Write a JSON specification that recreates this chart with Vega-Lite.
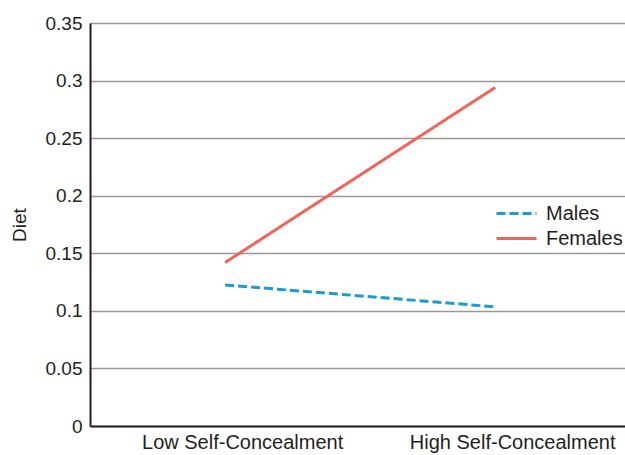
{
  "$schema": "https://vega.github.io/schema/vega-lite/v6.json",
  "autosize": {"type": "none"},
  "padding": {"left": 90, "top": 23, "right": 0, "bottom": 29},
  "width": 535,
  "height": 403,
  "background": "white",
  "config": {
    "view": {"stroke": null},
    "font": "Liberation Sans"
  },
  "data": {
    "values": [
      {"level": "Low Self-Concealment", "sex": "Males", "diet": 0.1225},
      {"level": "High Self-Concealment", "sex": "Males", "diet": 0.1035},
      {"level": "Low Self-Concealment", "sex": "Females", "diet": 0.142},
      {"level": "High Self-Concealment", "sex": "Females", "diet": 0.294}
    ]
  },
  "mark": {"type": "line", "strokeWidth": 3},
  "encoding": {
    "x": {
      "field": "level",
      "type": "ordinal",
      "sort": ["Low Self-Concealment", "High Self-Concealment"],
      "scale": {"type": "point", "padding": 0.4907, "align": 0.51},
      "axis": {
        "title": null,
        "labelAngle": 0,
        "labelFontSize": 20,
        "labelLimit": 0,
        "labelColor": "#231f20",
        "labelOffset": 17,
        "labelPadding": 6,
        "ticks": false,
        "grid": false,
        "domainColor": "#231f20",
        "domainWidth": 2
      }
    },
    "y": {
      "field": "diet",
      "type": "quantitative",
      "scale": {"domain": [0, 0.35], "nice": false},
      "axis": {
        "title": "Diet",
        "titleFontSize": 19,
        "titleFontWeight": "normal",
        "titleColor": "#231f20",
        "titlePadding": 16,
        "values": [0, 0.05, 0.1, 0.15, 0.2, 0.25, 0.3, 0.35],
        "labelExpr": "datum.value === 0 ? '0' : format(datum.value, '.2~f')",
        "labelFontSize": 19,
        "labelColor": "#231f20",
        "labelPadding": 8,
        "ticks": false,
        "gridColor": "#999999",
        "gridWidth": 1.5,
        "domainColor": "#231f20",
        "domainWidth": 2
      }
    },
    "color": {
      "field": "sex",
      "type": "nominal",
      "scale": {"domain": ["Males", "Females"], "range": ["#1a9bd1", "#f0655a"]},
      "legend": {
        "title": null,
        "orient": "none",
        "legendX": 405,
        "legendY": 179,
        "symbolType": "M-1,0H3",
        "symbolSize": 400,
        "symbolStrokeWidth": 3,
        "symbolFillColor": "transparent",
        "labelFontSize": 20,
        "labelColor": "#231f20",
        "labelOffset": 28,
        "rowPadding": 3
      }
    },
    "strokeDash": {
      "field": "sex",
      "type": "nominal",
      "scale": {"domain": ["Males", "Females"], "range": [[9, 4], [1, 0]]},
      "legend": null
    }
  }
}
